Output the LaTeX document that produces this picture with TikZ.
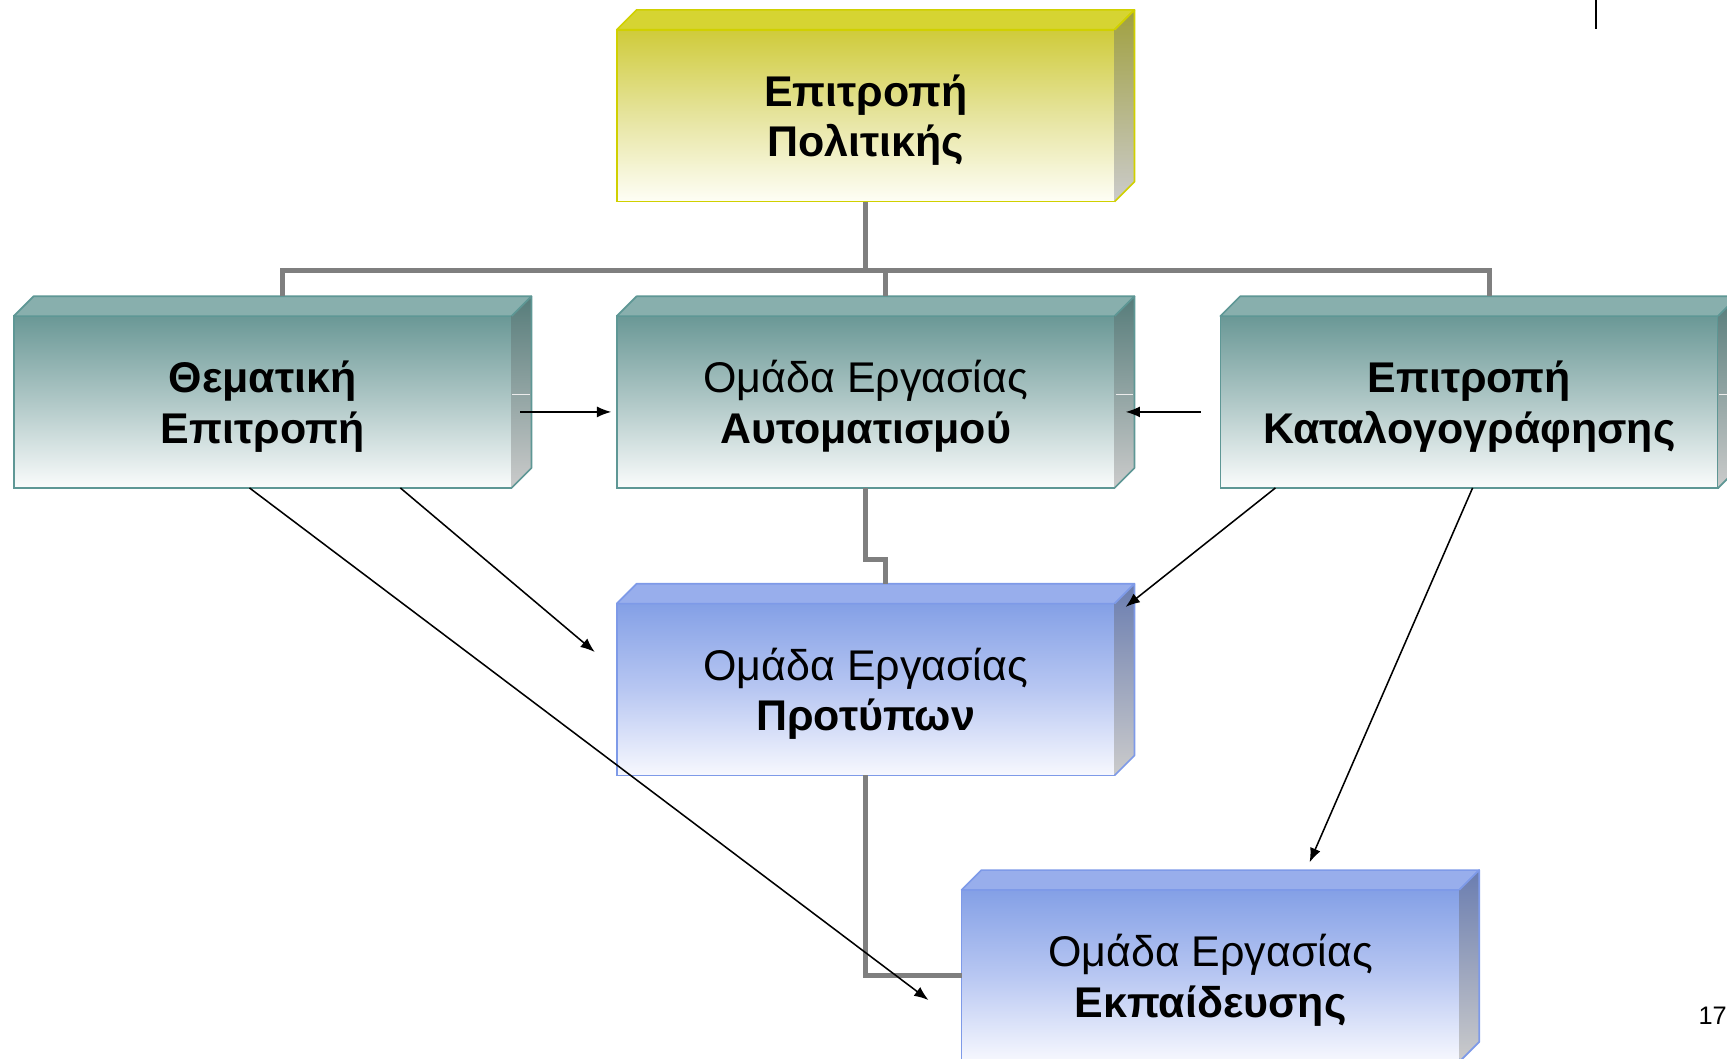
\documentclass[tikz,border=0pt]{standalone}
\usepackage{fontspec}
\setmainfont{Liberation Sans}
\usetikzlibrary{arrows.meta}
\definecolor{yelTop}{HTML}{CFCB3A}
\definecolor{yelMid}{HTML}{E6E49E}
\definecolor{yelBot}{HTML}{FEFEF6}
\definecolor{yelCap}{HTML}{D6D432}
\definecolor{yelEdge}{HTML}{D0D000}
\definecolor{yelSide}{HTML}{A0A03E}
\definecolor{tealTop}{HTML}{6A9896}
\definecolor{tealMid}{HTML}{B0C8C7}
\definecolor{tealBot}{HTML}{FAFCFC}
\definecolor{tealCap}{HTML}{88AFAD}
\definecolor{tealEdge}{HTML}{5E9795}
\definecolor{tealSide}{HTML}{567C7A}
\definecolor{bluTop}{HTML}{84A0E6}
\definecolor{bluMid}{HTML}{B8C7F2}
\definecolor{bluBot}{HTML}{F7F8FE}
\definecolor{bluCap}{HTML}{98AEEC}
\definecolor{bluEdge}{HTML}{7E9AE8}
\definecolor{bluSide}{HTML}{6A7DB0}
\definecolor{sideBot}{HTML}{CBCBCB}
\definecolor{connGray}{HTML}{7F7F7F}
\newcommand\boxfont{\fontsize{39}{46}\selectfont}
\newcommand\bevelfaces[5]{%
  \filldraw[draw=#2, fill=#3, line width=1.5pt, line join=round]
    (#1.north west) -- ++(18,-18) -- ([xshift=18pt,yshift=18pt]#1.north east) -- (#1.north east) -- cycle;
  \shade[top color=#4, bottom color=#5]
    (#1.north east) -- ++(18,-18) -- ([xshift=18pt,yshift=18pt]#1.south east) -- (#1.south east) -- cycle;
  \draw[draw=#2, line width=1.5pt, line join=round]
    (#1.north east) -- ++(18,-18) -- ([xshift=18pt,yshift=18pt]#1.south east) -- (#1.south east);
}
\newcommand\sideglint[1]{%
  \draw[white!85!gray, line width=1pt] ([xshift=0.8pt,yshift=7pt]#1.east) -- ([xshift=17pt,yshift=7pt]#1.east);
}
\tikzset{
  front/.style={draw, line width=1.5pt, minimum width=452pt, minimum height=156pt,
    inner sep=0pt, outer sep=0pt},
  boxtext/.style={inner sep=0pt, align=center, font=\boxfont},
  yelbox/.style={front, draw=yelEdge, top color=yelTop, bottom color=yelBot, middle color=yelMid},
  tealbox/.style={front, draw=tealEdge, top color=tealTop, bottom color=tealBot, middle color=tealMid},
  blubox/.style={front, draw=bluEdge, top color=bluTop, bottom color=bluBot, middle color=bluMid},
  conn/.style={draw=connGray, line width=4.5pt},
  arr/.style={draw=black, line width=1.4pt, -{Latex[length=13pt,width=10pt]}},
}
\begin{document}
\begin{tikzpicture}[x=1pt,y=-1pt]
\useasboundingbox (0,0) rectangle (1568,961);
\fill[white] (0,0) rectangle (1568,961);
\clip (0,0) rectangle (1568,961);

% boxes (front faces)
\node[yelbox] (pol) at (786,105) {};
\node[tealbox] (tem) at (238.5,365) {};
\node[tealbox] (aut) at (786,365) {};
\node[tealbox] (kat) at (1334,365) {};
\node[blubox] (pro) at (786,626) {};
\node[blubox] (edu) at (1099,886) {};

\bevelfaces{pol}{yelEdge}{yelCap}{yelSide}{sideBot}
\bevelfaces{tem}{tealEdge}{tealCap}{tealSide}{sideBot}
\bevelfaces{aut}{tealEdge}{tealCap}{tealSide}{sideBot}
\bevelfaces{kat}{tealEdge}{tealCap}{tealSide}{sideBot}
\bevelfaces{pro}{bluEdge}{bluCap}{bluSide}{sideBot}
\bevelfaces{edu}{bluEdge}{bluCap}{bluSide}{sideBot}
\sideglint{tem}
\sideglint{aut}
\sideglint{kat}

% texts
\node[boxtext] (polText) at ([yshift=-4pt]pol.center) {\textbf{Επιτροπή}\\\textbf{Πολιτικής}};
\node[boxtext] (temText) at ([yshift=-4pt]tem.center) {\textbf{Θεματική}\\\textbf{Επιτροπή}};
\node[boxtext] (autText) at ([yshift=-4pt]aut.center) {Ομάδα Εργασίας\\\textbf{Αυτοματισμού}};
\node[boxtext] (katText) at ([yshift=-4pt]kat.center) {\textbf{Επιτροπή}\\\textbf{Καταλογογράφησης}};
\node[boxtext] (proText) at ([yshift=-4pt]pro.center) {Ομάδα Εργασίας\\\textbf{Προτύπων}};
\node[boxtext] (eduText) at ([yshift=-4pt]edu.center) {Ομάδα Εργασίας\\\textbf{Εκπαίδευσης}};

% connector attachment points on the top bevels
\coordinate (temT) at ([xshift=18pt,yshift=18pt]tem.north);
\coordinate (autT) at ([xshift=18pt,yshift=18pt]aut.north);
\coordinate (katT) at ([xshift=18pt,yshift=18pt]kat.north);
\coordinate (proT) at ([xshift=18pt,yshift=18pt]pro.north);

% gray hierarchy connectors
\draw[conn] (temT) -- ++(0,-23) -| (katT);
\draw[conn] (pol.south) -- ++(0,63) -| (autT);
\draw[conn] (aut.south) -- ++(0,65) -| (proT);
\draw[conn] (pro.south) |- (edu.west);

% black arrows
\draw[arr] ([xshift=8pt,yshift=-9pt]tem.east) -- ([xshift=-5pt,yshift=-9pt]aut.west);
\draw[arr] ([xshift=-18pt,yshift=-9pt]kat.west) -- ([xshift=10pt,yshift=-9pt]aut.east);
\draw[arr] ([xshift=351pt]tem.south west) -- ([xshift=-20pt,yshift=34pt]pro.west);
\draw[arr] ([xshift=214pt]tem.south west) -- ([xshift=-30pt,yshift=-22pt]edu.west);
\draw[arr] ([xshift=50pt]kat.south west) -- ([xshift=10pt,yshift=-3pt]pro.north east);
\draw[arr] ([xshift=229pt]kat.south west) -- ([xshift=316pt,yshift=25pt]edu.north west);

% page mark and number
\coordinate (markT) at (1449,0);
\coordinate (markB) at (1449,26);
\draw[line width=2.5pt] (markT) -- (markB);
\node[anchor=west, inner sep=0pt, font=\fontsize{23}{27}\selectfont] (pgnum) at (1542,922) {17};
\end{tikzpicture}
\end{document}
